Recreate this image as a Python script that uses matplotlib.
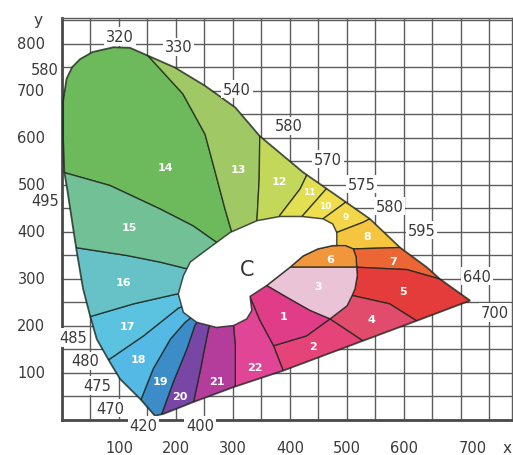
import matplotlib
matplotlib.use("Agg")
import matplotlib.pyplot as plt
from matplotlib.patches import Polygon
from matplotlib.ticker import MultipleLocator

# spectrum locus outline (chromaticity x, y in thousandths)
locus = [(163, 9), (137, 45), (102, 87), (84, 123), (61, 172), (49, 223), (37, 279),
         (26, 357), (17, 428), (9, 492), (4, 528), (2, 598), (2, 679), (8, 726),
         (18, 751), (32, 768), (54, 783), (90, 793), (119, 792), (151, 775),
         (198, 750), (251, 711), (304, 665), (347, 604), (423, 527), (494, 467),
         (540, 428), (593, 367), (640, 325), (663, 300), (716, 254), (622, 211),
         (529, 169), (388, 105), (301, 70), (230, 38), (178, 13)]

# achromatic area around illuminant C
white_area = [(204, 268), (213, 307), (225, 336), (248, 357), (295, 399), (342, 424),
              (382, 433), (421, 433), (458, 428), (475, 417), (482, 399), (482, 371),
              (475, 371), (449, 364), (423, 349), (400, 325), (359, 286), (330, 263),
              (333, 233), (324, 215), (301, 201), (271, 197), (236, 208), (213, 229)]

# borders between neighbouring zones, listed from the outside inwards
l13_12 = [(348, 640), (347, 604), (346, 513), (342, 423), (340, 390)]
l14_13 = [(140, 800), (151, 775), (212, 694), (251, 608), (272, 513), (286, 449), (298, 399), (310, 380)]
l14_15 = [(-30, 535), (2, 527), (84, 499), (172, 449), (230, 413), (271, 378), (300, 365)]
l15_16 = [(-30, 375), (23, 367), (114, 350), (172, 336), (222, 321), (280, 310)]
l16_17 = [(-10, 199), (55, 222), (125, 247), (201, 268), (270, 275)]
l17_18 = [(40, 94), (84, 130), (143, 179), (204, 238), (260, 265)]
l18_19 = [(125, 10), (140, 48), (160, 109), (190, 172), (216, 208), (260, 250)]
l19_20 = [(168, -15), (175, 13), (195, 80), (219, 151), (233, 201), (260, 250)]
l20_21 = [(226, -15), (230, 34), (242, 102), (251, 158), (257, 194), (270, 250)]
l21_22 = [(305, -15), (304, 73), (304, 158), (301, 201), (295, 250)]
l22_1 = [(405, 50), (388, 105), (371, 158), (347, 212), (330, 261), (315, 300)]
l12_11 = [(440, 540), (429, 520), (418, 492), (382, 435), (382, 420)]
l11_10 = [(470, 500), (461, 488), (421, 433), (421, 420)]
l10_9 = [(510, 476), (494, 460), (458, 428), (455, 410)]
l9_8 = [(565, 445), (540, 428), (529, 421), (482, 399), (470, 395)]
top8 = [(475, 371), (497, 371), (511, 364), (593, 367), (625, 367)]
top6 = [(400, 325), (423, 349), (449, 364), (475, 371), (497, 371), (511, 364), (516, 347), (517, 325)]
l7_5 = [(700, 287), (663, 300), (605, 320), (517, 325)]
l4_5 = [(640, 190), (622, 211), (575, 247), (509, 265)]
l2_4 = [(550, 135), (532, 165), (470, 215)]
arc1_2 = [(371, 158), (429, 179), (470, 215)]
arc3_right = [(517, 325), (518, 307), (514, 279), (509, 265), (500, 243), (470, 215)]
arc3_low = [(470, 215), (435, 233), (400, 257), (359, 286)]


def rev(line):
    return line[::-1]


zones = {
    14: l14_15 + rev(l14_13) + [(140, 830), (-30, 830)],
    13: l14_13 + rev(l13_12) + [(348, 800)],
    12: l13_12 + rev(l12_11),
    11: l12_11 + rev(l11_10),
    10: l11_10 + rev(l10_9),
    9: l10_9 + rev(l9_8),
    8: l9_8 + top8,
    7: top8[2:] + l7_5 + [(516, 347)],
    6: top6,
    5: rev(arc3_right)[2:] + rev(l7_5)[1:] + [(760, 240)] + l4_5[:-1],
    4: [(470, 215), (500, 243)] + rev(l4_5) + l2_4[:-1],
    3: [(400, 325)] + arc3_right + arc3_low[1:],
    2: arc1_2 + rev(l2_4)[1:] + l22_1[:2],
    1: rev(l22_1)[:4] + arc1_2[1:] + arc3_low[1:],
    22: l21_22 + rev(l22_1),
    21: l20_21 + rev(l21_22),
    20: l19_20 + rev(l20_21),
    19: l18_19 + rev(l19_20),
    18: l17_18 + rev(l18_19),
    17: l16_17 + rev(l17_18),
    16: l15_16 + rev(l16_17),
    15: l14_15 + rev(l15_16),
}

zone_colors = {
    14: "#6dba5c", 13: "#a0c864", 12: "#c3d75a", 11: "#e3df52", 10: "#efdf4e",
    9: "#f4d64a", 8: "#f6c53f", 7: "#ec6535", 6: "#f2963c", 5: "#e43c3a",
    4: "#e24c6c", 3: "#eac3d6", 2: "#e44478", 1: "#e13c87", 22: "#e04596",
    21: "#b43d9b", 20: "#7847a6", 19: "#3c8cc8", 18: "#55b9e6", 17: "#5bc3df",
    16: "#66c2c6", 15: "#72c095",
}

zone_label_pos = {
    14: (181, 538), 13: (309, 534), 12: (382, 509), 11: (433, 486), 10: (461, 456),
    9: (498, 433), 8: (536, 391), 6: (470, 343), 7: (581, 339), 3: (450, 286),
    5: (598, 275), 1: (388, 222), 4: (543, 215), 2: (441, 158), 22: (339, 112),
    21: (271, 84), 20: (207, 52), 19: (172, 84), 18: (134, 130), 17: (114, 201),
    16: (108, 293), 15: (119, 410),
}

# wavelength marks around the locus
wl_text = ["320", "330", "540", "580", "570", "575", "580", "595", "640", "700",
           "580", "495", "485", "480", "475", "470", "420", "400"]
wl_pos = [(102, 816), (204, 794), (307, 704), (397, 626), (467, 555), (526, 502),
          (575, 455), (631, 404), (728, 306), (760, 229), (-30, 745), (-30, 467),
          (20, 176), (40, 126), (61, 73), (84, 25), (143, -12), (242, -12)]

xticks = [100, 200, 300, 400, 500, 600, 700]
yticks = [100, 200, 300, 400, 500, 600, 700, 800]

edge = (0.10, 0.14, 0.10, 0.78)
txt = "#3a3a3a"

fig = plt.figure(figsize=(5.13, 4.56), dpi=100)
ax = fig.add_axes([62 / 513, 35 / 456, 450 / 513, 402 / 456])
ax.set_xlim(0, 789.5)
ax.set_ylim(0, 855.3)

ax.xaxis.set_major_locator(MultipleLocator(50))
ax.yaxis.set_major_locator(MultipleLocator(50))
ax.set_axisbelow(True)
ax.grid(True, color="#5c5c5c", lw=1.0)
ax.tick_params(length=0, labelbottom=False, labelleft=False)
for side in ["left", "bottom"]:
    ax.spines[side].set_color("#4a4a4a")
    ax.spines[side].set_linewidth(2.0)
for side in ["top", "right"]:
    ax.spines[side].set_color("#5c5c5c")
    ax.spines[side].set_linewidth(1.0)

outline = Polygon(locus, closed=True, facecolor="none", edgecolor=edge, lw=1.3, zorder=3.5)
ax.add_patch(outline)

for k, pts in zones.items():
    p = Polygon(pts, closed=True, facecolor=zone_colors[k], edgecolor=edge, lw=1.0, zorder=2)
    ax.add_patch(p)
    p.set_clip_path(outline)

ax.add_patch(Polygon(white_area, closed=True, facecolor="white", edgecolor=edge, lw=1.1, zorder=3))

for k, (x, y) in zone_label_pos.items():
    fs = 6.5 if k in (9, 10, 11) else 8
    ax.text(x, y, str(k), color="white", fontsize=fs, fontweight="bold",
            ha="center", va="center", zorder=4)
ax.text(325, 321, "C", color="#333333", fontsize=15, ha="center", va="center", zorder=4)

for s, (x, y) in zip(wl_text, wl_pos):
    ax.text(x, y, s, color=txt, fontsize=10.5, ha="center", va="center", zorder=6,
            clip_on=False, bbox=dict(boxstyle="square,pad=0.12", fc="white", ec="none"))

# axis numbers
for v in yticks:
    ax.annotate(str(v), xy=(0, v), xytext=(-12, 0), textcoords="offset points",
                ha="right", va="center", fontsize=10.5, color=txt, annotation_clip=False)
for v in xticks:
    dx = 8.5 if v == 700 else 0
    ax.annotate(str(v), xy=(v, 0), xytext=(dx, -19.5), textcoords="offset points",
                ha="center", va="center", fontsize=10.5, color=txt, annotation_clip=False)
ax.annotate("x", xy=(781, 0), xytext=(0, -19.5), textcoords="offset points",
            ha="center", va="center", fontsize=11, color=txt, annotation_clip=False)
ax.annotate("y", xy=(0, 853), xytext=(-17, 0), textcoords="offset points",
            ha="center", va="center", fontsize=11, color=txt, annotation_clip=False)

fig.savefig("out.png", dpi=100)
